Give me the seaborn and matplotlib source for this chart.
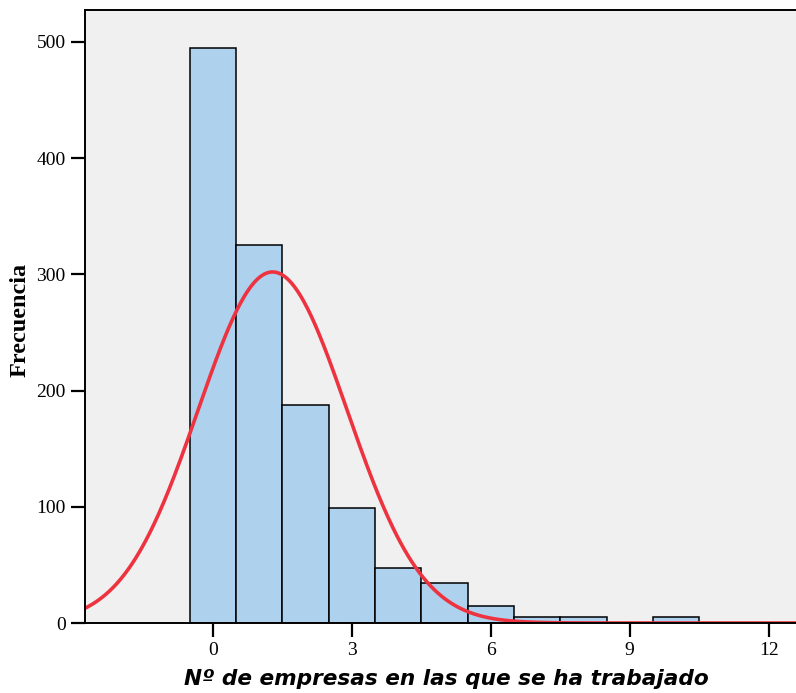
import numpy as np
import pandas as pd
import seaborn as sns
import matplotlib.pyplot as plt

# Frequency of each number of companies worked at
n_empresas = [0, 1, 2, 3, 4, 5, 6, 7, 8, 9, 10]
frecuencia = [495, 325, 188, 99, 47, 34, 15, 5, 5, 0, 5]
x_ticks = [0, 3, 6, 9, 12]
y_ticks = [0, 100, 200, 300, 400, 500]

df = pd.DataFrame({"n": n_empresas, "freq": frecuencia})

sns.set_theme(style="white")
plt.rcParams["font.family"] = ["Liberation Serif", "DejaVu Serif"]
plt.rcParams["text.color"] = "black"

fig = plt.figure(figsize=(7.96, 6.93), dpi=100)
ax = fig.add_axes([85 / 796, 1 - 623 / 693, 1 - 85 / 796, (623 - 10) / 693])
ax.set_facecolor("#F0F0F0")

sns.histplot(data=df, x="n", weights="freq", discrete=True, ax=ax,
             color="#AED1EE", alpha=1, edgecolor="black", linewidth=1.1)

# Normal curve fitted to the same distribution, scaled to counts
vals = np.repeat(n_empresas, frecuencia)
mu, sd, total = vals.mean(), vals.std(ddof=1), len(vals)
xs = np.linspace(-3, 13, 600)
ys = total / (sd * np.sqrt(2 * np.pi)) * np.exp(-0.5 * ((xs - mu) / sd) ** 2)
sns.lineplot(x=xs, y=ys, ax=ax, color="#EE3340", linewidth=2.6)

ax.set_xlim(-2.76, 12.59)
ax.set_ylim(0, 527.5)
ax.set_xticks(x_ticks)
ax.set_yticks(y_ticks)
ax.tick_params(axis="both", direction="out", length=10, width=1.6,
               color="black", labelsize=14, labelcolor="black", pad=4,
               bottom=True, left=True)

for side in ["left", "bottom", "top"]:
    ax.spines[side].set_color("black")
    ax.spines[side].set_linewidth(1.4)
ax.spines["right"].set_visible(False)

ax.set_xlabel("")
ax.set_ylabel("")
fig.text(446 / 796, 1 - 679 / 693, "Nº de empresas en las que se ha trabajado",
         family="DejaVu Sans", fontweight="bold", fontstyle="oblique",
         fontsize=15.6, color="black", ha="center", va="center")
fig.text(20 / 796, 1 - 320 / 693, "Frecuencia", rotation=90,
         fontweight="bold", fontsize=17.5, color="black",
         ha="center", va="center")

fig.savefig("out.png", dpi=100)
